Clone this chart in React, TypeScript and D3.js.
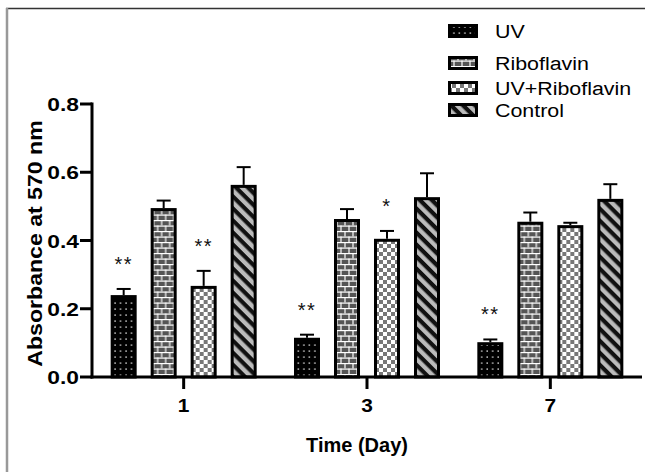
import React from "react";
import * as d3 from "d3";

const days = ["1", "3", "7"];
const series = ["UV", "Riboflavin", "UV+Riboflavin", "Control"];

const uv = [0.24, 0.115, 0.102];
const uvErr = [0.018, 0.009, 0.008];
const ribo = [0.495, 0.463, 0.455];
const riboErr = [0.022, 0.029, 0.027];
const uvRibo = [0.267, 0.405, 0.445];
const uvRiboErr = [0.044, 0.023, 0.007];
const control = [0.563, 0.527, 0.522];
const controlErr = [0.052, 0.07, 0.043];

const uvStars = ["**", "**", "**"];
const uvRiboStars = ["**", "*", ""];

const yTicks = [0, 0.2, 0.4, 0.6, 0.8];

const values = [uv, ribo, uvRibo, control];
const errors = [uvErr, riboErr, uvRiboErr, controlErr];
const stars = [uvStars, null, uvRiboStars, null];
const patternIds = ["pUV", "pRibo", "pUVR", "pCtrl"];

const W = 645, H = 472;
const margin = {left: 92, right: 3, top: 104, bottom: 95};
const font = "Liberation Sans, Arial, sans-serif";

// text helper: the reference glyphs are a bit wider than Arial
const T = ({x, y, sx = 1, rot = 0, children, ...rest}: any) => (
  <text transform={`translate(${x},${y}) rotate(${rot}) scale(${sx},1)`} fontFamily={font} fill="#000" {...rest}>
    {children}
  </text>
);

export default function App() {
  const y = d3.scaleLinear().domain([0, 0.8]).range([H - margin.bottom, margin.top]);
  const x0 = d3.scaleBand().domain(days).range([margin.left, W - margin.right]).padding(0);
  const x1 = d3.scaleBand().domain(series).range([-80, 80]).paddingInner(0.35).paddingOuter(0.175);
  const base = y(0);
  const bw = x1.bandwidth();

  return (
    <svg width={W} height={H} style={{position: "absolute", left: 0, top: 0, background: "#fff"}}>
      <defs>
        <pattern id="pUV" width={5.5} height={6} patternUnits="userSpaceOnUse">
          <rect width={6} height={6} fill="#000"/>
          <rect x={2.2} y={2.4} width={1.4} height={1.4} fill="#ddd"/>
        </pattern>
        <pattern id="pRibo" width={8} height={11} patternUnits="userSpaceOnUse">
          <rect width={8} height={11} fill="#555"/>
          <line x1={0} y1={0.6} x2={8} y2={0.6} stroke="#fff" strokeWidth={1.2}/>
          <line x1={0} y1={6.1} x2={8} y2={6.1} stroke="#fff" strokeWidth={1.2}/>
          <line x1={2} y1={0} x2={2} y2={5.5} stroke="#fff" strokeWidth={1.2}/>
          <line x1={6} y1={5.5} x2={6} y2={11} stroke="#fff" strokeWidth={1.2}/>
        </pattern>
        <pattern id="pUVR" width={8} height={8} patternUnits="userSpaceOnUse">
          <rect width={8} height={8} fill="#fff"/>
          <rect width={4} height={4} fill="#777"/>
          <rect x={4} y={4} width={4} height={4} fill="#777"/>
        </pattern>
        <pattern id="pCtrl" width={8.5} height={8.5} patternUnits="userSpaceOnUse" patternTransform="rotate(45)">
          <rect width={8.5} height={8.5} fill="#bbb"/>
          <rect width={8.5} height={4.2} fill="#111"/>
        </pattern>
      </defs>

      <line x1={6} y1={8.5} x2={W} y2={8.5} stroke="#333" strokeWidth={1.5}/>
      <line x1={7} y1={8} x2={7} y2={H} stroke="#999" strokeWidth={2.5}/>

      {/* bars */}
      {days.map((d, i) => (
        <g key={d} transform={`translate(${x0(d)! + x0.bandwidth() / 2},0)`}>
          {series.map((s, j) => {
            const v = values[j][i];
            const e = errors[j][i];
            const bx = x1(s)!;
            const cx = bx + bw / 2;
            const st = stars[j] ? stars[j]![i] : "";
            return (
              <g key={s}>
                <line x1={cx} x2={cx} y1={y(v)} y2={y(v + e)} stroke="#000" strokeWidth={2}/>
                <line x1={cx - 7} x2={cx + 7} y1={y(v + e)} y2={y(v + e)} stroke="#000" strokeWidth={2}/>
                <rect x={bx + 1.5} y={y(v) + 1.5} width={bw - 3} height={base - y(v) - 1.5}
                      fill={`url(#${patternIds[j]})`} stroke="#000" strokeWidth={3}/>
                {st && (
                  <T x={cx} y={y(v + e) - 18} textAnchor="middle" fontSize={20} letterSpacing={1.5}
                     fill="#111">{st}</T>
                )}
              </g>
            );
          })}
        </g>
      ))}

      {/* y axis */}
      <line x1={margin.left} x2={margin.left} y1={y(0.8) - 1.5} y2={base + 1.5} stroke="#000" strokeWidth={3}/>
      {yTicks.map(t => (
        <g key={t}>
          <line x1={margin.left - 12} x2={margin.left} y1={y(t)} y2={y(t)} stroke="#000" strokeWidth={3}/>
          <T x={margin.left - 13} y={y(t) + 7} sx={1.2} textAnchor="end" fontWeight="bold" fontSize={19}>
            {t.toFixed(1)}
          </T>
        </g>
      ))}
      <T x={42} y={(y(0) + y(0.8)) / 2 + 3} rot={-90} sx={1.1} textAnchor="middle" fontWeight="bold"
         fontSize={21}>Absorbance at 570 nm</T>

      {/* x axis */}
      <line x1={margin.left - 1.5} x2={W - margin.right} y1={base} y2={base} stroke="#000" strokeWidth={3}/>
      {days.map(d => {
        const cx = x0(d)! + x0.bandwidth() / 2;
        return (
          <g key={d}>
            <line x1={cx} x2={cx} y1={base} y2={base + 12} stroke="#000" strokeWidth={3}/>
            <T x={cx} y={base + 35} sx={1.1} textAnchor="middle" fontWeight="bold" fontSize={19}>{d}</T>
          </g>
        );
      })}
      <T x={(margin.left + W - margin.right) / 2 - 10} y={452} textAnchor="middle" fontWeight="bold"
         fontSize={20}>Time (Day)</T>

      {/* legend */}
      {series.map((s, j) => {
        const ly = [31, 63, 88, 110][j];
        return (
          <g key={s}>
            <rect x={449.5} y={ly - 5.5} width={27} height={11} fill={`url(#${patternIds[j]})`}
                  stroke="#000" strokeWidth={3}/>
            <T x={495} y={ly + 6.5} sx={1.19} fontSize={18}>{s}</T>
          </g>
        );
      })}
    </svg>
  );
}
